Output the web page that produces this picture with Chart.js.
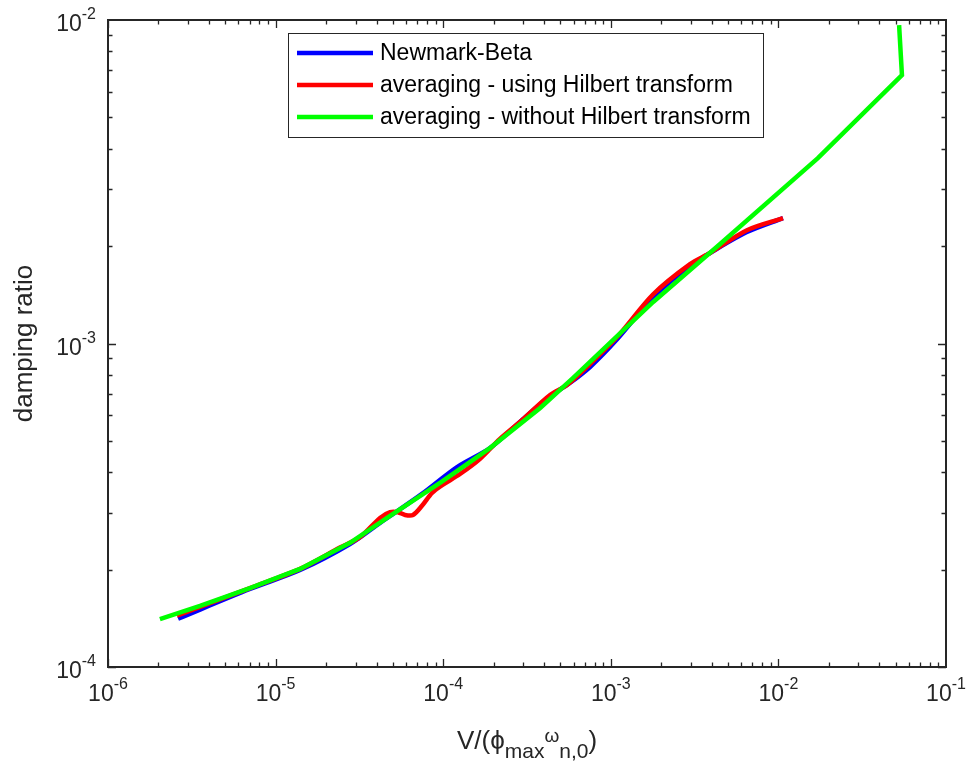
<!DOCTYPE html>
<html>
<head>
<meta charset="utf-8">
<script src="https://cdn.jsdelivr.net/npm/chart.js@4.4.1/dist/chart.umd.min.js"></script>
<style>
  body { margin: 0; background: #fff; }
  #myChart { display: block; }
</style>
</head>
<body>
<canvas id="myChart" width="972" height="772"></canvas>
<script>
// setup - values (log-log)
const newmarkX = [2.62e-6, 7.03e-6, 1.40e-5, 2.78e-5, 4.20e-5, 4.82e-5, 7.47e-5, 1.21e-4, 1.90e-4, 2.87e-4, 4.34e-4, 5.48e-4, 7.52e-4, 1.09e-3, 1.79e-3, 2.97e-3, 3.91e-3, 6.49e-3, 1.065e-2];
const newmarkY = [1.41e-4, 1.742e-4, 1.994e-4, 2.40e-4, 2.79e-4, 2.93e-4, 3.43e-4, 4.15e-4, 4.75e-4, 5.72e-4, 6.88e-4, 7.44e-4, 8.46e-4, 1.03e-3, 1.39e-3, 1.74e-3, 1.905e-3, 2.21e-3, 2.44e-3];

const hilbertX = [2.58e-6, 7.03e-6, 1.40e-5, 2.42e-5, 3.19e-5, 4.20e-5, 4.82e-5, 5.37e-5, 5.92e-5, 6.60e-5, 7.47e-5, 8.57e-5, 9.71e-5, 1.26e-4, 1.66e-4, 2.18e-4, 2.87e-4, 4.34e-4, 5.48e-4, 7.52e-4, 1.09e-3, 1.79e-3, 2.97e-3, 3.91e-3, 6.49e-3, 1.065e-2];
const hilbertY = [1.44e-4, 1.754e-4, 2.01e-4, 2.34e-4, 2.52e-4, 2.89e-4, 3.01e-4, 3.01e-4, 2.95e-4, 2.95e-4, 3.15e-4, 3.45e-4, 3.63e-4, 3.95e-4, 4.40e-4, 5.07e-4, 5.72e-4, 6.93e-4, 7.44e-4, 8.64e-4, 1.047e-3, 1.42e-3, 1.76e-3, 1.905e-3, 2.24e-3, 2.44e-3];

const noHilbertX = [2.04e-6, 3.54e-6, 7.03e-6, 1.40e-5, 2.78e-5, 4.82e-5, 9.71e-5, 1.90e-4, 3.79e-4, 5.94e-4, 9.61e-4, 1.79e-3, 4.49e-3, 1.72e-2, 5.46e-2, 5.25e-2];
const noHilbertY = [1.407e-4, 1.544e-4, 1.754e-4, 2.01e-4, 2.42e-4, 2.93e-4, 3.73e-4, 4.75e-4, 6.32e-4, 7.82e-4, 9.90e-4, 1.344e-3, 2.03e-3, 3.74e-3, 6.76e-3, 9.65e-3];

const seriesNames = ['Newmark-Beta', 'averaging - using Hilbert transform', 'averaging - without Hilbert transform'];
const seriesColors = ['#0000ff', '#ff0000', '#00ff00'];

const xTickExp = [-6, -5, -4, -3, -2, -1];
const yTickExp = [-4, -3, -2];

const FONT = '"Liberation Sans", Arial, Helvetica, sans-serif';

function pts(xs, ys) {
  return xs.map((x, i) => ({ x: x, y: ys[i] }));
}

const data = {
  datasets: [{
    label: seriesNames[0],
    data: pts(newmarkX, newmarkY),
    borderColor: seriesColors[0],
    borderWidth: 4.5,
    pointRadius: 0,
    tension: 0.3,
    order: 3
  },
  {
    label: seriesNames[1],
    data: pts(hilbertX, hilbertY),
    borderColor: seriesColors[1],
    borderWidth: 4.5,
    pointRadius: 0,
    tension: 0.3,
    order: 2
  },
  {
    label: seriesNames[2],
    data: pts(noHilbertX, noHilbertY),
    borderColor: seriesColors[2],
    borderWidth: 4.5,
    pointRadius: 0,
    tension: 0,
    order: 1
  }]
};

// draws the matlab style box, inward ticks, 10^n labels, titles and legend
const matlabAxes = {
  id: 'matlabAxes',
  afterDraw(chart) {
    const ctx = chart.ctx;
    const a = chart.chartArea;
    const xs = chart.scales.x, ys = chart.scales.y;
    ctx.save();
    ctx.strokeStyle = '#262626';
    ctx.fillStyle = '#262626';

    // ticks
    ctx.lineWidth = 1.3;
    ctx.beginPath();
    for (let e = -6; e < -1; e++) {
      for (let m = 1; m <= 9; m++) {
        const px = Math.round(xs.getPixelForValue(m * Math.pow(10, e))) + 0.5;
        const len = m === 1 ? 8 : 4.5;
        ctx.moveTo(px, a.bottom); ctx.lineTo(px, a.bottom - len);
        ctx.moveTo(px, a.top); ctx.lineTo(px, a.top + len);
      }
    }
    for (let e = -4; e < -2; e++) {
      for (let m = 1; m <= 9; m++) {
        const py = Math.round(ys.getPixelForValue(m * Math.pow(10, e))) + 0.5;
        const len = m === 1 ? 8 : 4.5;
        ctx.moveTo(a.left, py); ctx.lineTo(a.left + len, py);
        ctx.moveTo(a.right, py); ctx.lineTo(a.right - len, py);
      }
    }
    ctx.stroke();

    // box
    ctx.lineWidth = 2;
    ctx.strokeRect(a.left, a.top, a.right - a.left, a.bottom - a.top);

    // tick labels
    const big = 'px ' + FONT;
    ctx.textBaseline = 'alphabetic';
    xTickExp.forEach(e => {
      const px = xs.getPixelForValue(Math.pow(10, e));
      ctx.font = '23' + big;
      const w1 = ctx.measureText('10').width;
      ctx.font = '16' + big;
      const w2 = ctx.measureText(String(e)).width;
      const x0 = px - (w1 + w2) / 2;
      ctx.textAlign = 'left';
      ctx.font = '23' + big;
      ctx.fillText('10', x0, a.bottom + 34);
      ctx.font = '16' + big;
      ctx.fillText(String(e), x0 + w1, a.bottom + 22);
    });
    yTickExp.forEach(e => {
      const py = ys.getPixelForValue(Math.pow(10, e));
      ctx.font = '16' + big;
      const w2 = ctx.measureText(String(e)).width;
      const x1 = a.left - 12;
      ctx.textAlign = 'right';
      ctx.fillText(String(e), x1, py - 1);
      ctx.font = '23' + big;
      ctx.fillText('10', x1 - w2, py + 11);
    });

    // y title
    ctx.save();
    ctx.translate(32, (a.top + a.bottom) / 2);
    ctx.rotate(-Math.PI / 2);
    ctx.textAlign = 'center';
    ctx.font = '26' + big;
    ctx.fillText('damping ratio', 0, 0);
    ctx.restore();

    // x title  V/(phi_max omega_n,0)
    const parts = [
      { t: 'V/(', s: 26, dy: 0 },
      { t: '\u03d5', s: 26, dy: 0 },
      { t: 'max', s: 21, dy: 9 },
      { t: '\u03c9', s: 19, dy: -7 },
      { t: 'n,0', s: 21, dy: 9 },
      { t: ')', s: 26, dy: 0 }
    ];
    let total = 0;
    parts.forEach(p => { ctx.font = p.s + big; p.w = ctx.measureText(p.t).width; total += p.w; });
    let cx = (a.left + a.right) / 2 - total / 2;
    ctx.textAlign = 'left';
    parts.forEach(p => {
      ctx.font = p.s + big;
      ctx.fillText(p.t, cx, a.bottom + 82 + p.dy);
      cx += p.w;
    });

    // legend box
    const lx = 288, ly = 33, lw = 475, lh = 104;
    ctx.fillStyle = '#fff';
    ctx.fillRect(lx, ly, lw, lh);
    ctx.strokeStyle = '#262626';
    ctx.lineWidth = 1;
    ctx.strokeRect(lx + 0.5, ly + 0.5, lw, lh);
    const rows = [53, 85, 117];
    ctx.font = '23' + big;
    ctx.textBaseline = 'middle';
    seriesNames.forEach((name, i) => {
      ctx.strokeStyle = seriesColors[i];
      ctx.lineWidth = 4.5;
      ctx.beginPath();
      ctx.moveTo(297, rows[i]); ctx.lineTo(373, rows[i]);
      ctx.stroke();
      ctx.fillStyle = '#000';
      ctx.fillText(name, 380, rows[i] + 1);
    });
    ctx.restore();
  }
};

// config
const config = {
  type: 'line',
  data,
  options: {
    responsive: false,
    animation: false,
    layout: { padding: { left: 108, right: 26, top: 20, bottom: 105 } },
    plugins: {
      legend: { display: false },
      tooltip: { enabled: false }
    },
    scales: {
      x: {
        type: 'logarithmic',
        min: 1e-6,
        max: 1e-1,
        grid: { display: false },
        border: { display: false },
        ticks: { display: false },
        afterFit(s) { s.height = 0; }
      },
      y: {
        type: 'logarithmic',
        min: 1e-4,
        max: 1e-2,
        grid: { display: false },
        border: { display: false },
        ticks: { display: false },
        afterFit(s) { s.width = 0; }
      }
    }
  },
  plugins: [matlabAxes]
};

const myChart = new Chart(document.getElementById('myChart'), config);
</script>
</body>
</html>
